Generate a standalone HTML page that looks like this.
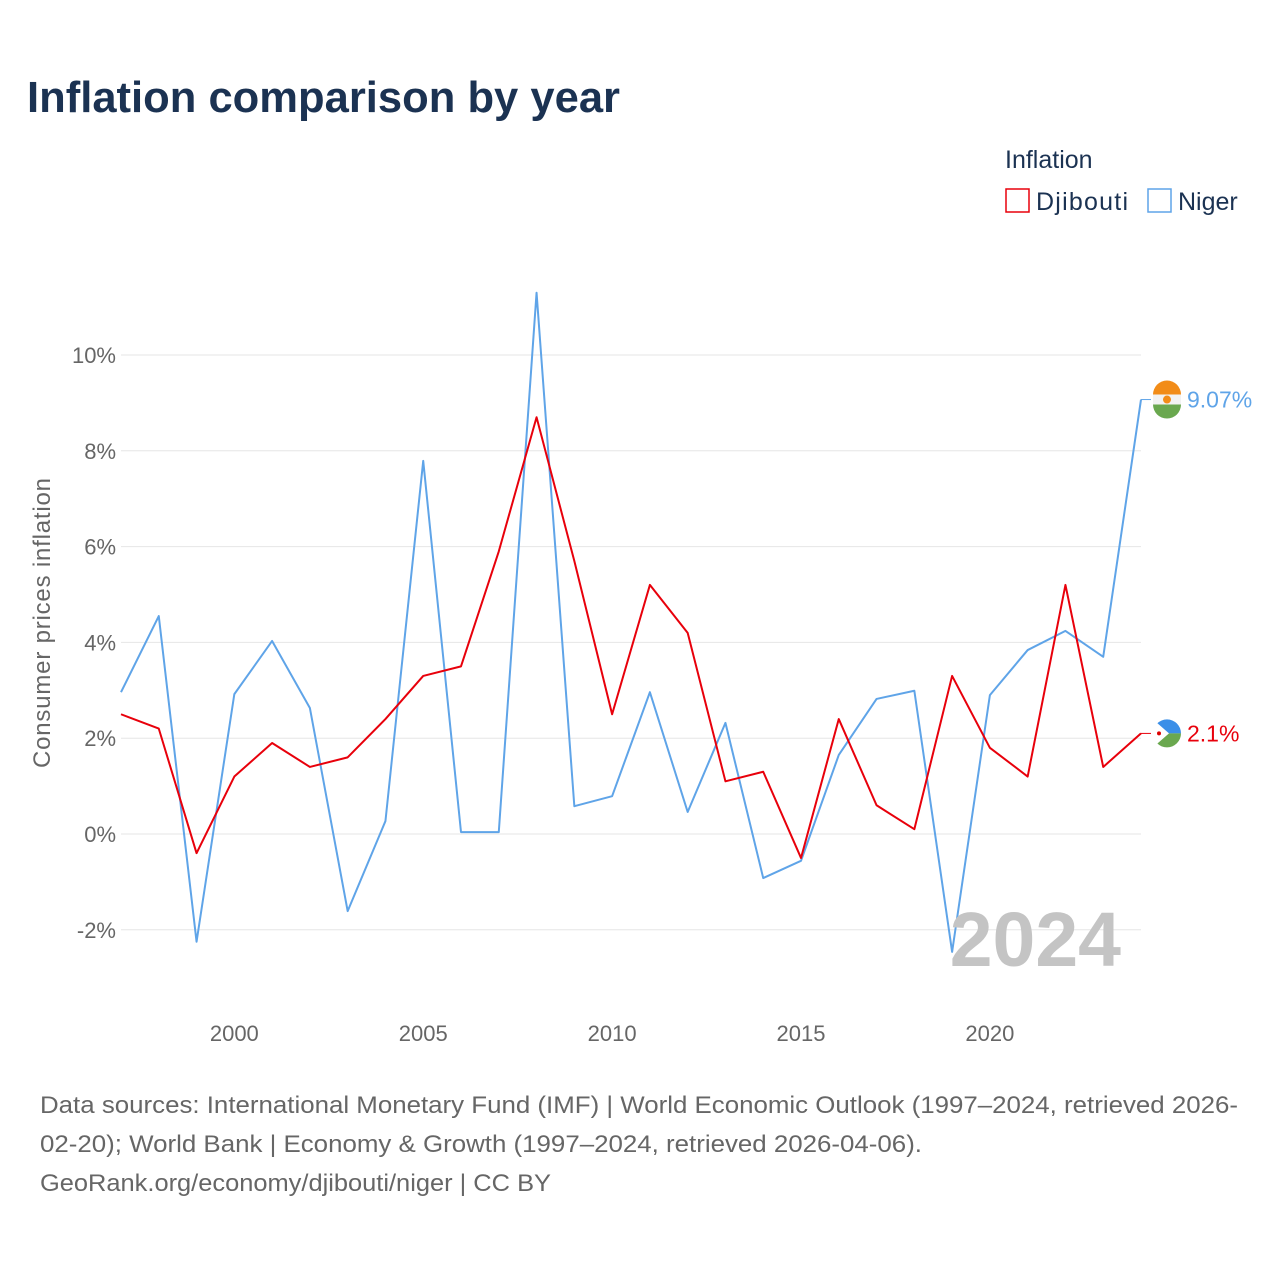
<!DOCTYPE html>
<html><head><meta charset="utf-8"><style>
body{margin:0;background:#fff;font-family:"Liberation Sans",sans-serif;}
svg{display:block}
</style></head><body>
<svg id="chart" width="1280" height="1280" viewBox="0 0 1280 1280">
<text x="27" y="112" font-size="44" font-weight="bold" fill="#1b3252" textLength="593" lengthAdjust="spacingAndGlyphs">Inflation comparison by year</text>
<text x="1005" y="168" font-size="25" fill="#1b3252">Inflation</text>
<g><rect x="1006" y="189" width="23" height="23" fill="none" stroke="#e8000b" stroke-width="1.5"/><text x="1036" y="210" font-size="25" fill="#1b3252" textLength="92">Djibouti</text></g>
<g><rect x="1148" y="189" width="23" height="23" fill="none" stroke="#5fa4e8" stroke-width="1.5"/><text x="1178" y="210" font-size="25" fill="#1b3252">Niger</text></g>
<g id="grid"></g><g id="xt"></g><g id="lines"></g>
<text x="1121" y="966" font-size="77" font-weight="bold" fill="#c4c4c4" text-anchor="end">2024</text>
<text transform="translate(50,623) rotate(-90)" font-size="24" fill="#666" text-anchor="middle" textLength="290">Consumer prices inflation</text>
<g font-size="24" fill="#666">
<text x="40" y="1113" textLength="1198" lengthAdjust="spacingAndGlyphs">Data sources: International Monetary Fund (IMF) | World Economic Outlook (1997–2024, retrieved 2026-</text>
<text x="40" y="1152" textLength="882" lengthAdjust="spacingAndGlyphs">02-20); World Bank | Economy &amp; Growth (1997–2024, retrieved 2026-04-06).</text>
<text x="40" y="1191" textLength="511" lengthAdjust="spacingAndGlyphs">GeoRank.org/economy/djibouti/niger | CC BY</text>
</g>
</svg>
<script>
const years=[1997,1998,1999,2000,2001,2002,2003,2004,2005,2006,2007,2008,2009,2010,2011,2012,2013,2014,2015,2016,2017,2018,2019,2020,2021,2022,2023,2024];
const djibouti=[2.5,2.2,-0.4,1.2,1.9,1.4,1.6,2.4,3.3,3.5,5.9,8.7,5.7,2.5,5.2,4.2,1.1,1.3,-0.5,2.4,0.6,0.1,3.3,1.8,1.2,5.2,1.4,2.1];
const niger=[2.96,4.55,-2.25,2.92,4.03,2.63,-1.61,0.27,7.79,0.04,0.04,11.3,0.58,0.79,2.96,0.46,2.32,-0.92,-0.56,1.65,2.82,2.99,-2.46,2.90,3.84,4.24,3.70,9.07];
const yTicks=[-2,0,2,4,6,8,10];
const xTicks=[2000,2005,2010,2015,2020];
const NS='http://www.w3.org/2000/svg';
const X=y=>121+(y-1997)*(1141-121)/27;
const Y=v=>834-v*47.9;
function mk(t,a,p){const e=document.createElementNS(NS,t);for(const k in a)e.setAttribute(k,a[k]);p.appendChild(e);return e;}
const grid=document.getElementById('grid'),xt=document.getElementById('xt'),lines=document.getElementById('lines');
yTicks.forEach(v=>{
 const l=mk('line',{x1:121,x2:1141,y1:Y(v),y2:Y(v),stroke:'#e6e6e6'},grid);
 
 
 const t=mk('text',{x:116,y:Y(v)+8,'font-size':22,fill:'#666','text-anchor':'end'},grid);
 t.textContent=v+'%';
 
 
});
xTicks.forEach(y=>{
 const t=mk('text',{x:X(y),y:1041,'font-size':22,fill:'#666','text-anchor':'middle'},xt);
 t.textContent=y;
 
 
});
function series(vals,col,name,label){
 const p=mk('polyline',{points:vals.map((v,i)=>X(years[i])+','+Y(v)).join(' '),fill:'none',stroke:col,'stroke-width':2,'stroke-linejoin':'round'},lines);
 
 
 const last=vals[vals.length-1],ly=Y(last);
 mk('line',{x1:X(2024),x2:X(2024)+10,y1:ly,y2:ly,stroke:col,'stroke-width':1},lines);
 const g=mk('g',{},lines);
 
 
 const cx=1167;
 if(name==='niger'){
  mk('path',{d:`M${cx-14},${ly-5} A14,14 0 0 1 ${cx+14},${ly-5} Z`,fill:'#f28c18'},g);
  mk('rect',{x:cx-14,y:ly-5,width:28,height:10,fill:'#f2f2f2'},g);
  mk('path',{d:`M${cx-14},${ly+5} A14,14 0 0 0 ${cx+14},${ly+5} Z`,fill:'#6aa84f'},g);
  mk('circle',{cx:cx,cy:ly,r:4,fill:'#f28c18'},g);
 }else{
  mk('path',{d:`M${cx-14},${ly} A14,14 0 0 1 ${cx+14},${ly} Z`,fill:'#3b8fe8'},g);
  mk('path',{d:`M${cx-14},${ly} A14,14 0 0 0 ${cx+14},${ly} Z`,fill:'#6aa84f'},g);
  mk('path',{d:`M${cx-14},${ly-14} L${cx+2},${ly} L${cx-14},${ly+14} Z`,fill:'#fff'},g);
  mk('circle',{cx:cx-8,cy:ly,r:2,fill:'#d00'},g);
 }
 const t=mk('text',{x:1187,y:ly+8,'font-size':23,fill:col},lines);
 t.textContent=label;
 
 
}
series(niger,'#5fa4e8','niger',niger[niger.length-1]+'%');
series(djibouti,'#e8000b','djibouti',djibouti[djibouti.length-1]+'%');
</script>
</body></html>
